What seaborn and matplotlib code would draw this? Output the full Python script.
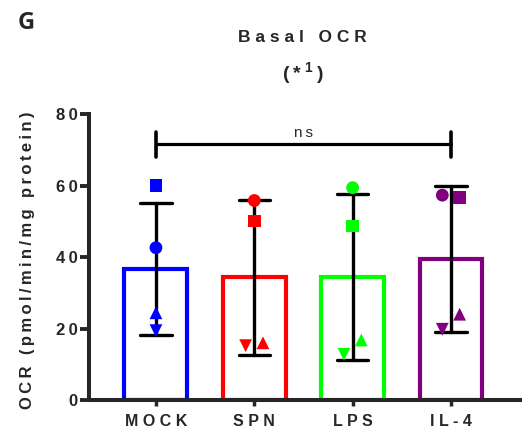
import pandas as pd
import seaborn as sns
import matplotlib.pyplot as plt

groups = ['MOCK', 'SPN', 'LPS', 'IL-4']
circle = [42.6, 55.8, 59.4, 57.3]
square = [60.1, 50.1, 48.7, 56.6]
tri_down = [19.4, 15.2, 12.8, 19.8]
tri_up = [24.4, 16.0, 16.8, 24.0]
colors = ['#0000FF', '#FF0000', '#00FF00', '#800080']
yticks = [0, 20, 40, 60, 80]

sns.set_style('ticks')
plt.rcParams['font.family'] = ['Liberation Sans', 'DejaVu Sans']
plt.rcParams['mathtext.fontset'] = 'custom'
plt.rcParams['mathtext.rm'] = 'Liberation Sans'
plt.rcParams['mathtext.bf'] = 'Liberation Sans:bold'


def spaced(s, sp='\u2009'):
    return sp.join(s)


reps = {'circle': circle, 'square': square, 'down': tri_down, 'up': tri_up}
rows = []
for rep, vals in reps.items():
    for g, v in zip(groups, vals):
        rows.append({'group': g, 'rep': rep, 'value': v})
df = pd.DataFrame(rows)

# dodge points that would overlap, like prism's scatter
df['xpos'] = df['group'].map({g: i for i, g in enumerate(groups)}).astype(float)
order = list(reps.keys())
for g in groups:
    sub = df[df['group'] == g]
    for i, a in enumerate(order):
        for b in order[i + 1:]:
            ia = sub.index[sub['rep'] == a][0]
            ib = sub.index[sub['rep'] == b][0]
            if abs(df.at[ia, 'value'] - df.at[ib, 'value']) < 4.5:
                df.at[ia, 'xpos'] -= 0.088
                df.at[ib, 'xpos'] += 0.088

fig = plt.figure(figsize=(5.24, 4.34), dpi=100)
ax = fig.add_axes([0.170, 0.0783, 0.822, 0.659])

sns.barplot(data=df, x='group', y='value', hue='group', order=groups,
            palette=colors, fill=False, width=0.64, linewidth=3,
            errorbar='sd', capsize=0.32,
            err_kws={'color': 'black', 'linewidth': 2.4, 'zorder': 3},
            legend=False, ax=ax)

sns.scatterplot(data=df, x='xpos', y='value', hue='group', palette=colors,
                style='rep', markers={'circle': 'o', 'square': 's', 'down': 'v', 'up': '^'},
                s=85, linewidth=0, legend=False, zorder=4, ax=ax)

ax.set_xlim(-0.68, 3.70)
ax.set_ylim(0, 80)
ax.set_yticks(yticks)
ax.set_yticklabels([spaced(str(t)) for t in yticks], fontweight='bold', fontsize=12)
ax.set_xticks(range(len(groups)))
ax.set_xticklabels([spaced(g, ' ') for g in groups], fontweight='bold', fontsize=11.5)
ax.tick_params(axis='y', length=6.5, width=2.8, pad=2)
ax.tick_params(axis='x', length=4, width=2.5, pad=6)
sns.despine(ax=ax)
for sp in ['left', 'bottom']:
    ax.spines[sp].set_linewidth(2.9)
ax.set_xlabel('')
ax.set_ylabel(spaced('OCR (pmol/min/mg protein)'), fontweight='bold', fontsize=12)
ax.yaxis.set_label_coords(-0.125, 0.49)

# ns bracket
ax.plot([0, 3], [71.5, 71.5], color='black', lw=2.3, clip_on=False)
for xb in [0, 3]:
    ax.plot([xb, xb], [68.1, 74.9], color='black', lw=2.6, clip_on=False)
ax.text(1.5, 73.6, spaced('ns'), ha='center', va='baseline', fontsize=11)

fig.text(302 / 524, 1 - 38 / 434, spaced('Basal OCR', ' '), ha='center', va='center',
         fontsize=12.5, fontweight='bold')
fig.text(303 / 524, 1 - 74 / 434, '(\u2009*\u2009$^{\\mathbf{1}}$\u2009)', ha='center', va='center',
         fontsize=14, fontweight='bold')
fig.text(26 / 524, 1 - 23 / 434, 'G', ha='center', va='center',
         fontsize=17, fontweight='bold', family='Open Sans')

fig.savefig('out.png', dpi=100)
